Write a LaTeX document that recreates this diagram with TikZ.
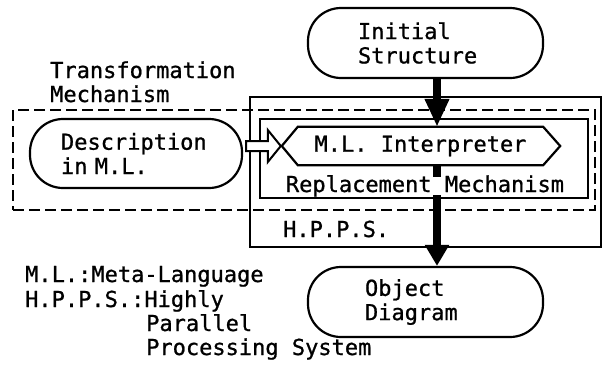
\documentclass[tikz,border=0pt]{standalone}
\usepackage{fontspec}
\setmonofont[FakeBold=0.9]{DejaVu Sans Mono}
\usetikzlibrary{arrows.meta,calc}
\begin{document}
\begin{tikzpicture}[x=1pt,y=-1pt,
  every node/.style={font=\ttfamily\fontsize{22}{24.3}\selectfont, inner sep=0pt},
  pill/.style={draw, line width=2.2pt, rounded corners=33pt, align=left},
  hppsbox/.style={draw, line width=1.8pt},
  tmbox/.style={draw, line width=1.6pt, dash pattern=on 11pt off 5pt},
  repbox/.style={draw, line width=2.6pt},
  hexline/.style={draw, line width=2.2pt, line join=miter, fill=white},
  flow/.style={line width=8.5pt, -{Triangle[length=#1, width=23pt]}},
  blockarrow/.style={draw, line width=2pt, fill=white, line join=miter},
  lbl/.style={anchor=base west}
]
\useasboundingbox (0,0) rectangle (605,370);

% enclosing frames
\node[tmbox, minimum width=582pt, minimum height=100pt] (tm) at (304,160) {};
\node[hppsbox, minimum width=351pt, minimum height=150pt] (hpps) at (425.5,172) {};
\node[repbox, minimum width=328pt, minimum height=79pt] (rep) at (424,158.5) {};

% terminals
\node[pill, minimum width=235pt, minimum height=70pt, text width=135pt] (init) at (425.5,43) {Initial\\Structure};
\node[pill, minimum width=212pt, minimum height=69pt, text width=150pt] (desc) at (136,153.5) {Description\\in M.L.};
\node[pill, minimum width=235pt, minimum height=70pt, text width=121pt] (obj) at (425.5,302) {Object\\Diagram};

% interpreter (hexagon)
\node[minimum width=245pt, minimum height=38pt] (interp) at (420.5,146) {};
\coordinate (ax) at (437,0);

% main flow
\draw[flow=28pt] (init.south -| ax) -- (interp.north -| ax);
\draw[flow=21pt] (interp.south -| ax) -- (obj.north -| ax);

\draw[hexline] (interp.north west) -- (interp.north east) -- ([xshift=17pt]interp.east)
  -- (interp.south east) -- (interp.south west) -- ([xshift=-16pt]interp.west) -- cycle;
\node at (interp) {M.L. Interpreter};

% description feeds the interpreter
\path ([xshift=-16pt]interp.west) coordinate (tip);
\path (desc.east |- tip) coordinate (tail);
\draw[blockarrow] ($(tail)+(3,-5)$) -- ($(tip)+(-14,-5)$) -- ($(tip)+(-14,-16)$)
  -- ($(tip)+(-1,0)$) -- ($(tip)+(-14,16)$) -- ($(tip)+(-14,5)$) -- ($(tail)+(3,5)$) -- cycle;

% labels
\node[anchor=base, fill=white, text height=15pt, text depth=3pt] (replabel) at (425,192) {Replacement Mechanism};
\node[lbl] (tmlabel1) at (50,78) {Transformation};
\node[lbl] (tmlabel2) at (50,102) {Mechanism};
\node[lbl] (hppslabel) at (283,237) {H.P.P.S.};

% legend
\node[lbl] (legml) at (25,282) {M.L.:Meta-Language};
\node[lbl] (leghpps) at (25,307) {H.P.P.S.:Highly};
\node[lbl] (legpar) at (146,331) {Parallel};
\node[lbl] (legproc) at (146,355) {Processing System};
\end{tikzpicture}
\end{document}
